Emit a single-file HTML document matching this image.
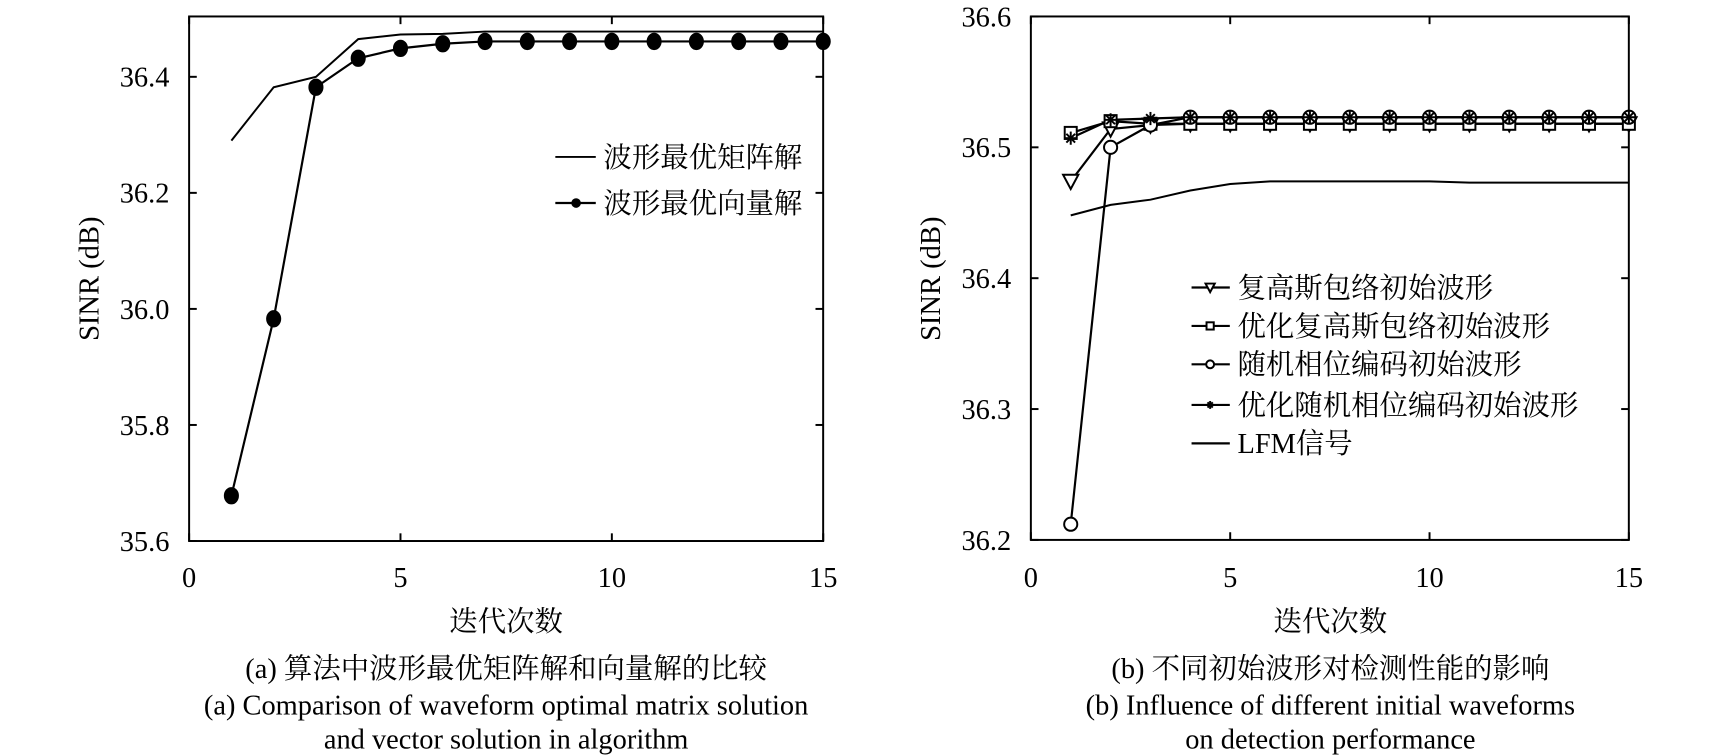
<!DOCTYPE html>
<html><head><meta charset="utf-8"><style>
html,body{margin:0;padding:0;background:#fff;}
svg{display:block}
text{font-family:"Liberation Serif","Noto Serif CJK SC",serif;fill:#000}
</style></head><body>
<svg id="s" width="1713" height="755" viewBox="0 0 1567 688" preserveAspectRatio="none" xmlns="http://www.w3.org/2000/svg">
<g id="g" fill="none" stroke="#000" stroke-width="1.8"></g>
<g font-size="26">
<text x="463" y="575" text-anchor="middle">迭代次数</text>
<text x="463" y="618" text-anchor="middle">(a) 算法中波形最优矩阵解和向量解的比较</text>
<text x="463" y="651" text-anchor="middle">(a) Comparison of waveform optimal matrix solution</text>
<text x="463" y="682" text-anchor="middle">and vector solution in algorithm</text>
<text x="1217" y="575" text-anchor="middle">迭代次数</text>
<text x="1217" y="618" text-anchor="middle">(b) 不同初始波形对检测性能的影响</text>
<text x="1217" y="651" text-anchor="middle">(b) Influence of different initial waveforms</text>
<text x="1217" y="682" text-anchor="middle">on detection performance</text>
<text transform="translate(90,254) rotate(-90)" text-anchor="middle">SINR (dB)</text>
<text transform="translate(860,254) rotate(-90)" text-anchor="middle">SINR (dB)</text>
<text x="552" y="152">波形最优矩阵解</text>
<text x="552" y="194">波形最优向量解</text>
<text x="1132" y="271">复高斯包络初始波形</text>
<text x="1132" y="306">优化复高斯包络初始波形</text>
<text x="1132" y="341">随机相位编码初始波形</text>
<text x="1132" y="378">优化随机相位编码初始波形</text>
<text x="1132" y="413">LFM信号</text>
</g>
<g id="t" font-size="26"></g>
</svg>
<script>
var NS="http://www.w3.org/2000/svg",g=document.getElementById('g'),t=document.getElementById('t');
function el(n,a,p){var e=document.createElementNS(NS,n);for(var k in a)e.setAttribute(k,a[k]);(p||g).appendChild(e);return e;}
function txt(x,y,s,anc){var e=el('text',{x:x,y:y,'text-anchor':anc},t);e.textContent=s;}
function pl(pts,w){el('polyline',{points:pts.map(function(p){return p[0]+','+p[1]}).join(' '),'stroke-width':w||1.8});}
var LX=function(i){return 173+38.67*i},LY=function(v){return 493-528.75*(v-35.6)};
el('rect',{x:173,y:15,width:580,height:478});
[0,5,10,15].forEach(function(i){var x=LX(i);el('line',{x1:x,y1:493,x2:x,y2:486});el('line',{x1:x,y1:15,x2:x,y2:22});txt(x,535,i,'middle');});
[35.6,35.8,36.0,36.2,36.4].forEach(function(v){var y=LY(v);el('line',{x1:173,y1:y,x2:180,y2:y});el('line',{x1:753,y1:y,x2:746,y2:y});txt(155,y+9,v.toFixed(1),'end');});
var m=[36.29,36.382,36.40,36.465,36.473,36.474,36.478,36.478,36.478,36.478,36.478,36.478,36.478,36.478,36.478];
pl(m.map(function(v,i){return [LX(i+1),LY(v)]}));
var vv=[35.678,35.983,36.382,36.432,36.449,36.457,36.461,36.461,36.461,36.461,36.461,36.461,36.461,36.461,36.461];
pl(vv.map(function(v,i){return [LX(i+1),LY(v)]}),2);
vv.forEach(function(v,i){el('ellipse',{cx:LX(i+1),cy:LY(v),rx:6,ry:7,fill:'#000'});});
el('line',{x1:508,y1:143,x2:545,y2:143});el('line',{x1:508,y1:185,x2:545,y2:185,'stroke-width':2});el('circle',{cx:527,cy:185,r:3.5,fill:'#000'});
var RX=function(i){return 943+36.47*i},RY=function(v){return 492-1192.5*(v-36.2)};
el('rect',{x:943,y:15,width:547,height:477});
[0,5,10,15].forEach(function(i){var x=RX(i);el('line',{x1:x,y1:492,x2:x,y2:485});el('line',{x1:x,y1:15,x2:x,y2:22});txt(x,535,i,'middle');});
[36.2,36.3,36.4,36.5,36.6].forEach(function(v){var y=RY(v);el('line',{x1:943,y1:y,x2:950,y2:y});el('line',{x1:1490,y1:y,x2:1483,y2:y});txt(925,y+9,v.toFixed(1),'end');});
function fill(a){while(a.length<15)a.push(a[a.length-1]);return a;}
var tri=fill([36.474,36.514,36.517,36.518]),sq=fill([36.511,36.520,36.518,36.518]),ci=fill([36.212,36.500,36.517,36.523]),st=fill([36.507,36.521,36.522,36.523]);
var lfm=fill([36.448,36.456,36.460,36.467,36.472,36.474,36.474,36.474,36.474,36.474,36.473]);
function mk(type,x,y,s){s=s||1;
 if(type=='t')el('polygon',{points:(x-7*s)+','+(y-6*s)+' '+(x+7*s)+','+(y-6*s)+' '+x+','+(y+7*s),fill:'#fff'});
 if(type=='s')el('rect',{x:x-5.5*s,y:y-5.5*s,width:11*s,height:11*s,fill:'#fff'});
 if(type=='c')el('circle',{cx:x,cy:y,r:6*s,fill:'#fff'});
 if(type=='*'){var r=6*s;el('line',{x1:x-r,y1:y,x2:x+r,y2:y});el('line',{x1:x,y1:y-r,x2:x,y2:y+r});el('line',{x1:x-4*s,y1:y-4*s,x2:x+4*s,y2:y+4*s});el('line',{x1:x-4*s,y1:y+4*s,x2:x+4*s,y2:y-4*s});}
}
pl(lfm.map(function(v,i){return [RX(i+1),RY(v)]}));
[[tri,'t'],[sq,'s'],[ci,'c'],[st,'*']].forEach(function(d){pl(d[0].map(function(v,i){return [RX(i+1),RY(v)]}),2);});
[[tri,'t'],[sq,'s'],[ci,'c'],[st,'*']].forEach(function(d){d[0].forEach(function(v,i){mk(d[1],RX(i+1),RY(v));});});
var ly=[262,297,332,369,404],ty=['t','s','c','*',null];
ly.forEach(function(y,k){el('line',{x1:1090,y1:y,x2:1125,y2:y,'stroke-width':2});if(ty[k])mk(ty[k],1107,y,0.6);});
</script>
</body></html>
